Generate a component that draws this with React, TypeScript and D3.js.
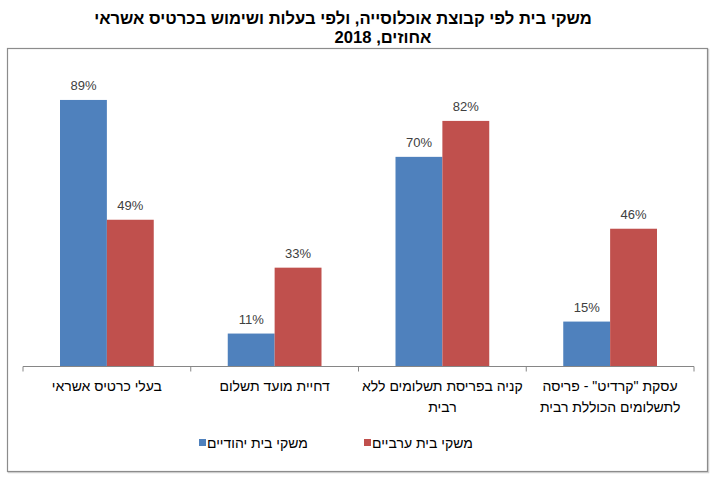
import * as d3 from "d3";

const categories = [
  ["בעלי כרטיס אשראי"],
  ["דחיית מועד תשלום"],
  ["קניה בפריסת תשלומים ללא", "רבית"],
  ['עסקת "קרדיט" - פריסה', "לתשלומים הכוללת רבית"],
];
const seriesNames = ["משקי בית יהודיים", "משקי בית ערביים"];
const jewish = [89, 11, 70, 15];
const arab = [49, 33, 82, 46];
const colors = ["#4F81BD", "#C0504D"];

const W = 721;
const H = 483;
const font = "'Liberation Sans', Arial, sans-serif";

export default function App() {
  const keys = categories.map((c, i) => String(i));
  const x0 = d3.scaleBand().domain(keys).range([23, 694]);
  const x1 = d3
    .scaleBand()
    .domain(["0", "1"])
    .range([37, x0.bandwidth() - 37]);
  const y = d3.scaleLinear().domain([0, 100]).range([366.5, 67]);
  const values = [jewish, arab];

  return (
    <svg
      width={W}
      height={H}
      style={{ position: "absolute", left: 0, top: 0, background: "#fff" }}
      fontFamily={font}
    >
      {/* title */}
      <text
        x={343}
        y={24}
        textAnchor="middle"
        direction="rtl"
        fontSize={16.6}
        fontWeight="bold"
        fill="#000"
      >
        משקי בית לפי קבוצת אוכלוסייה, ולפי בעלות ושימוש בכרטיס אשראי
      </text>
      <text
        x={383}
        y={43}
        textAnchor="middle"
        direction="rtl"
        fontSize={16.6}
        fontWeight="bold"
        fill="#000"
      >
        אחוזים, 2018
      </text>

      {/* frame */}
      <rect x={8.5} y={49.5} width={700} height={423} fill="none" stroke="#d4d4d4" strokeWidth={1.5} />
      <rect x={7.5} y={48.5} width={700} height={423} fill="#fff" stroke="#8c8c8c" strokeWidth={1.2} />

      {/* bars */}
      {values.map((vals, s) => (
        <g key={s} fill={colors[s]}>
          {vals.map((v, i) => (
            <rect
              key={i}
              x={(x0(String(i)) ?? 0) + (x1(String(s)) ?? 0)}
              y={y(v)}
              width={x1.bandwidth()}
              height={y(0) - y(v)}
            />
          ))}
        </g>
      ))}

      {/* data labels */}
      {values.map((vals, s) =>
        vals.map((v, i) => (
          <text
            key={`${s}-${i}`}
            x={(x0(String(i)) ?? 0) + (x1(String(s)) ?? 0) + x1.bandwidth() / 2}
            y={y(v) - 10}
            textAnchor="middle"
            fontSize={13}
            fill="#404040"
          >
            {v}%
          </text>
        ))
      )}

      {/* category axis */}
      <line x1={23} x2={694} y1={y(0)} y2={y(0)} stroke="#868686" strokeWidth={1} />
      {[...keys.map((k) => x0(k) ?? 0), 694].map((t, i) => (
        <line key={i} x1={t} x2={t} y1={y(0)} y2={y(0) + 5} stroke="#868686" strokeWidth={1} />
      ))}
      {categories.map((lines, i) =>
        lines.map((ln, j) => (
          <text
            key={`${i}-${j}`}
            x={(x0(String(i)) ?? 0) + x0.bandwidth() / 2}
            y={391 + j * 21}
            textAnchor="middle"
            direction="rtl"
            fontSize={14}
            fill="#000"
          >
            {ln}
          </text>
        ))
      )}

      {/* legend */}
      {[
        { sq: 199, tx: 207 },
        { sq: 364, tx: 372 },
      ].map((p, s) => (
        <g key={s}>
          <rect x={p.sq} y={439} width={7} height={7} fill={colors[s]} />
          <text x={p.tx} y={448} textAnchor="end" direction="rtl" fontSize={14} fill="#000">
            {seriesNames[s]}
          </text>
        </g>
      ))}
    </svg>
  );
}
